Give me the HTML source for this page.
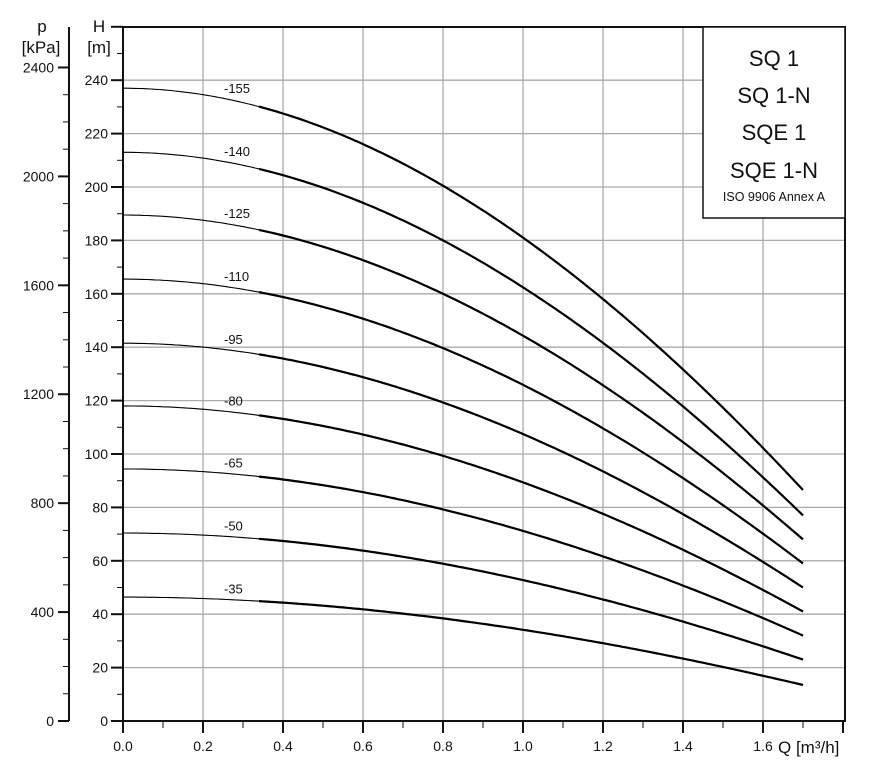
<!DOCTYPE html>
<html><head><meta charset="utf-8"><style>
body{margin:0;background:#fff;}
svg{display:block;font-family:"Liberation Sans",sans-serif;}
</style></head><body>
<svg id="s" width="892" height="767" viewBox="0 0 892 767" xmlns="http://www.w3.org/2000/svg">
<g id="grid" stroke="#aaa" stroke-width="1.3"></g>
<g id="ax" stroke="#111" stroke-width="2" fill="none"></g>
<g id="tx" font-size="14" fill="#111"></g>
<g id="cv" fill="none" stroke="#000"></g>
<rect x="703" y="27" width="142" height="191" fill="#fff" stroke="#111" stroke-width="1.5"/>
<g fill="#111" text-anchor="middle">
<text x="774" y="66" font-size="22">SQ 1</text>
<text x="774" y="103" font-size="22">SQ 1-N</text>
<text x="774" y="140" font-size="22">SQE 1</text>
<text x="774" y="178" font-size="22">SQE 1-N</text>
<text x="774" y="201" font-size="12.5">ISO 9906 Annex A</text>
</g>
</svg>
<script>
const NS="http://www.w3.org/2000/svg";
function el(p,t,a,txt){const e=document.createElementNS(NS,t);for(const k in a)e.setAttribute(k,a[k]);if(txt!==undefined)e.textContent=txt;document.getElementById(p).appendChild(e);return e;}
const X=q=>123+q*400, Y=h=>721-h*2.67;
for(let i=1;i<=8;i++) el("grid","line",{x1:X(i*0.2),x2:X(i*0.2),y1:27,y2:721});
for(let h=20;h<=240;h+=20) el("grid","line",{x1:123,x2:845,y1:Y(h),y2:Y(h)});
el("ax","path",{d:"M123 27H845V721H123Z"});
for(let h=0;h<=260;h+=10){const big=h%20==0;el("ax","line",{x1:big?111:117,x2:123,y1:Y(h),y2:Y(h),"stroke-width":big?2:1});
 if(big&&h<=240) el("tx","text",{x:108,y:Y(h)+5,"text-anchor":"end"},h);}
for(let i=0;i<=18;i++){const big=i%2==0;el("ax","line",{x1:X(i*0.1),x2:X(i*0.1),y1:721,y2:big?733:728,"stroke-width":big?2:1});
 if(big&&i<=16) el("tx","text",{x:X(i*0.1),y:751,"text-anchor":"middle"},(i/10).toFixed(1));}
el("tx","text",{x:778,y:753,"text-anchor":"start","font-size":"17"},"Q [m³/h]");
el("ax","line",{x1:69,x2:69,y1:27,y2:721});
const K=p=>721-p*0.2723;
for(let p=0;p<=2400;p+=100){const big=p%400==0;el("ax","line",{x1:big?58:63,x2:69,y1:K(p),y2:K(p),"stroke-width":big?2:1});
 if(big) el("tx","text",{x:54,y:K(p)+5,"text-anchor":"end"},p);}
el("tx","text",{x:42,y:32,"text-anchor":"middle","font-size":"17"},"p");
el("tx","text",{x:41,y:53,"text-anchor":"middle","font-size":"17"},"[kPa]");
el("tx","text",{x:99,y:32,"text-anchor":"middle","font-size":"17"},"H");
el("tx","text",{x:99,y:53,"text-anchor":"middle","font-size":"17"},"[m]");
const g=q=>0.410*q*q-0.037*q*q*q;
const C=[["-155",237,86.5],["-140",213,77],["-125",189.5,68],["-110",165.5,59],["-95",141.5,50],["-80",118,41],["-65",94.4,32],["-50",70.4,23],["-35",46.4,13.5]];
C.forEach(([n,h0,he])=>{const s=(h0-he)/g(1.7);const H=q=>h0-s*g(q);
 let d1="",d2="";for(let q=0;q<=0.34001;q+=0.01)d1+=(d1?"L":"M")+X(q).toFixed(1)+" "+Y(H(q)).toFixed(1);
 for(let q=0.34;q<=1.7001;q+=0.01)d2+=(d2?"L":"M")+X(q).toFixed(1)+" "+Y(H(q)).toFixed(1);
 el("cv","path",{d:d1,"stroke-width":1.1});el("cv","path",{d:d2,"stroke-width":2.2});
 el("tx","text",{x:224,y:Y(H(0.26))-6,"font-size":"13"},n);});
</script>
</body></html>
